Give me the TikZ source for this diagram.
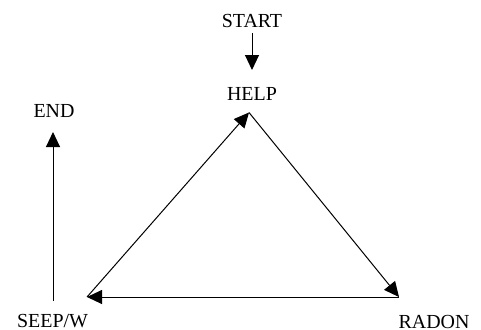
\documentclass[tikz,border=0pt]{standalone}
\usepackage{fontspec}
\setmainfont{Liberation Serif}
\usetikzlibrary{arrows.meta}
\begin{document}
\begin{tikzpicture}[x=1bp,y=-1bp,
  lbl/.style={inner sep=0pt,anchor=base,font=\fontsize{20}{24}\selectfont},
  conn/.style={line width=1bp,-{Triangle[length=15bp,width=14bp]}}]
\useasboundingbox (0,0) rectangle (481,329);
\node[lbl] (start) at (252,27) {START};
\node[lbl] (help) at (252,100) {HELP};
\node[lbl] (end) at (54,117) {END};
\node[lbl] (seep) at (52.5,327) {SEEP/W};
\node[lbl] (radon) at (434,328) {RADON};
\coordinate (s1) at (252,33);
\coordinate (s2) at (252,70);
\coordinate (apex) at (249,112.5);
\coordinate (br) at (399,297);
\coordinate (bl) at (87,297);
\coordinate (e1) at (53,301);
\coordinate (e2) at (53,132);
\draw[conn] (s1) -- (s2);
\draw[conn] (bl) -- (apex);
\draw[conn] (apex) -- (br);
\draw[conn] (br) -- (bl);
\draw[conn] (e1) -- (e2);
\end{tikzpicture}
\end{document}
